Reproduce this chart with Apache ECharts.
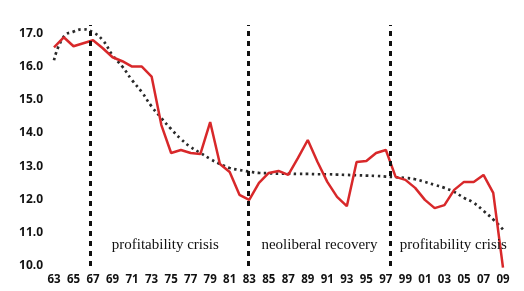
<!DOCTYPE html>
<html><head><meta charset="utf-8">
<script src="https://cdn.jsdelivr.net/npm/echarts@6/dist/echarts.min.js"></script>
<style>html,body{margin:0;padding:0;background:#fff}#c{width:524px;height:291px}</style>
</head><body><div id="c"></div>
<script>
const baseYear = 1963;
const years = [1963,1964,1965,1966,1967,1968,1969,1970,1971,1972,1973,1974,1975,1976,1977,1978,1979,1980,1981,1982,1983,1984,1985,1986,1987,1988,1989,1990,1991,1992,1993,1994,1995,1996,1997,1998,1999,2000,2001,2002,2003,2004,2005,2006,2007,2008,2009];
const profitRate = [16.58,16.88,16.61,16.70,16.79,16.55,16.28,16.16,16.00,16.00,15.70,14.24,13.40,13.49,13.40,13.37,14.33,13.07,12.83,12.14,11.99,12.50,12.80,12.86,12.74,13.25,13.79,13.13,12.53,12.08,11.80,13.13,13.16,13.40,13.49,12.68,12.59,12.35,11.99,11.74,11.83,12.29,12.53,12.53,12.74,12.20,9.95];
const trend = [16.19,16.90,17.05,17.12,17.03,16.79,16.34,16.00,15.59,15.23,14.80,14.45,14.12,13.82,13.58,13.40,13.22,13.07,12.95,12.89,12.84,12.80,12.79,12.78,12.78,12.77,12.77,12.76,12.76,12.75,12.74,12.73,12.72,12.71,12.69,12.67,12.65,12.61,12.53,12.44,12.35,12.23,12.05,11.90,11.66,11.40,11.10];
const yMin = 10, yMax = 17.4, yStep = 1;
const dividerYears = [1966.7, 1982.9, 1997.4];
const dividerTop = 17.25;
const periodLabels = ['profitability crisis', 'neoliberal recovery', 'profitability crisis'];
const periodLabelYears = [1974.4, 1990.2, 2003.9];
const periodLabelValue = 10.64;

const chart = echarts.init(document.getElementById('c'), null, {renderer: 'canvas'});
chart.setOption({
  animation: false,
  backgroundColor: '#fff',
  grid: {left: 54, right: 21, top: 20, bottom: 25},
  xAxis: {
    type: 'value', min: 0, max: years[years.length - 1] - baseYear, interval: 2,
    axisLine: {show: false}, axisTick: {show: false}, splitLine: {show: false},
    axisLabel: {
      margin: 8, color: '#111', fontWeight: 'bold', fontSize: 11.5, fontFamily: 'Noto Sans',
      formatter: v => String((baseYear + v) % 100).padStart(2, '0')
    }
  },
  yAxis: {
    type: 'value', min: yMin, max: yMax, interval: yStep,
    axisLine: {show: false}, axisTick: {show: false}, splitLine: {show: false},
    axisLabel: {
      margin: 11, color: '#111', fontWeight: 'bold', fontSize: 12, fontFamily: 'Noto Sans',
      showMaxLabel: false,
      formatter: v => (Math.abs(v - Math.round(v)) < 1e-9 ? v.toFixed(1) : '')
    }
  },
  series: [
    {
      type: 'line', name: 'trend', smooth: true, symbol: 'none',
      data: years.map((y, i) => [y - baseYear, trend[i]]),
      lineStyle: {color: '#2a2a2a', width: 2.7, type: [2.5, 3.5]}
    },
    {
      type: 'line', name: 'rate', symbol: 'none', clip: false,
      data: years.map((y, i) => [y - baseYear, profitRate[i]]),
      lineStyle: {color: '#d8282a', width: 2.5},
      markLine: {
        silent: true, symbol: 'none',
        lineStyle: {color: '#111', width: 3, type: [5, 5]},
        label: {show: false},
        data: dividerYears.map(y => [{coord: [y - baseYear, yMin]}, {coord: [y - baseYear, dividerTop]}])
      },
      markPoint: {
        silent: true, symbol: 'circle', symbolSize: 1,
        itemStyle: {color: 'rgba(0,0,0,0)'},
        label: {show: true, position: 'inside', formatter: '{b}', color: '#111', fontSize: 15, fontFamily: 'Liberation Serif'},
        data: periodLabels.map((t, i) => ({name: t, coord: [periodLabelYears[i] - baseYear, periodLabelValue]}))
      }
    }
  ]
});
</script>
</body></html>
